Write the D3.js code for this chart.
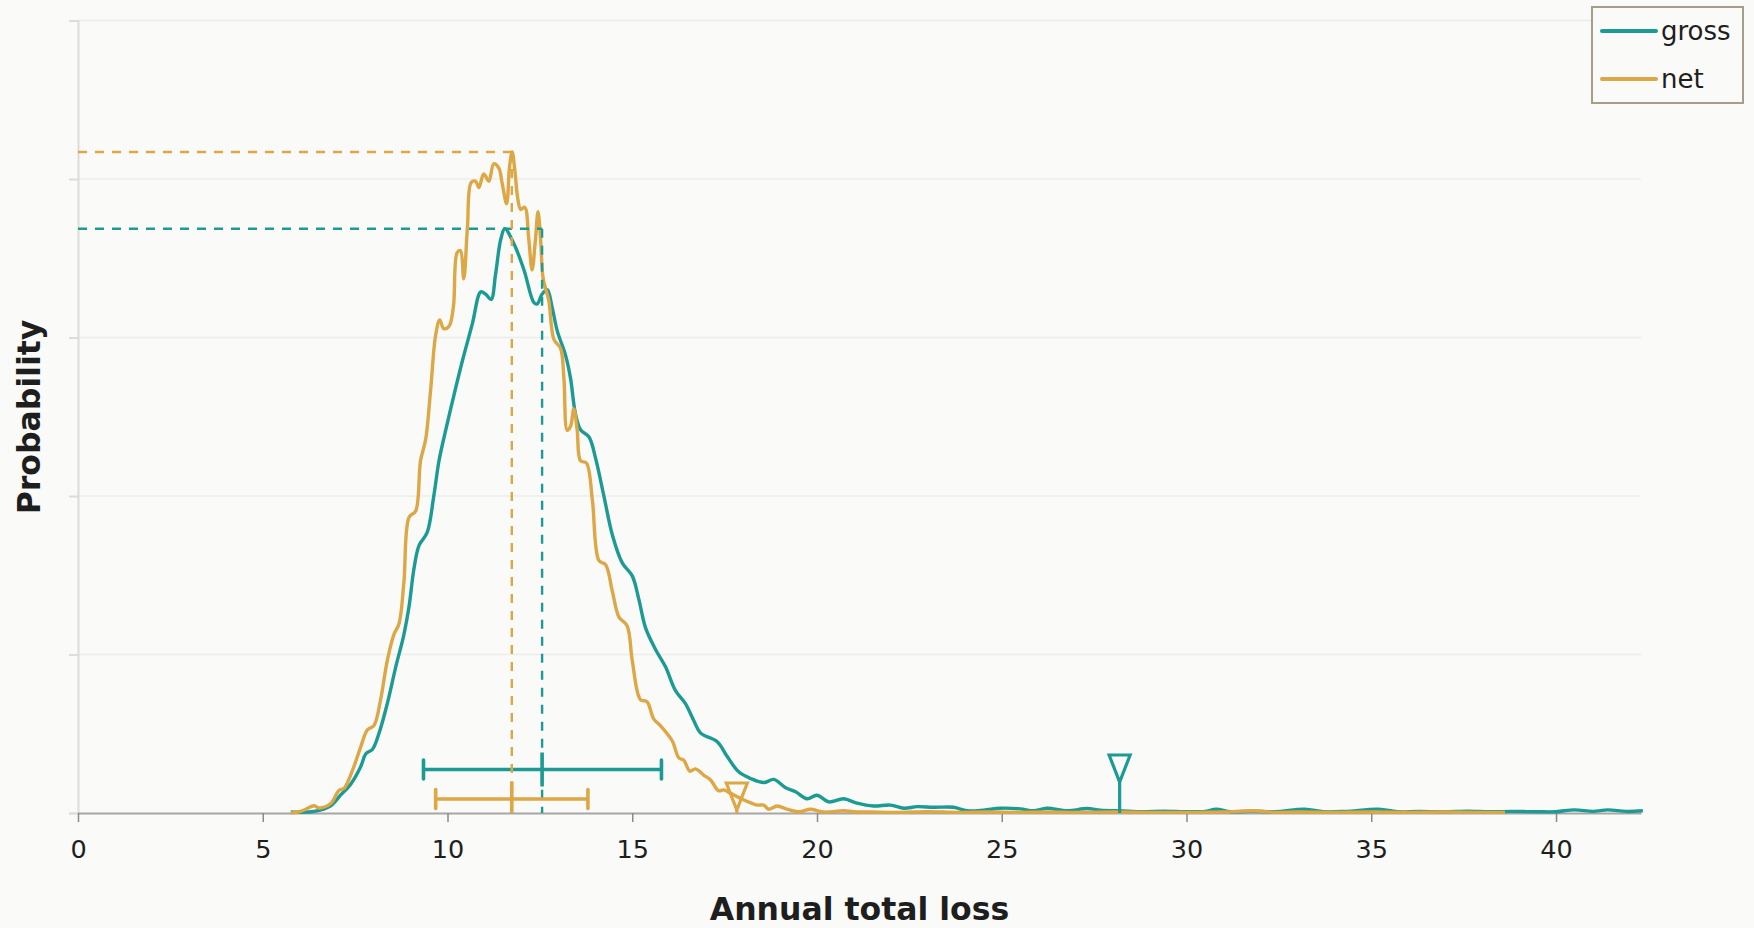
<!DOCTYPE html>
<html>
<head>
<meta charset="utf-8">
<script src="https://cdn.jsdelivr.net/npm/d3@7"></script>
<style>
	body { margin: 0; background: #fafaf8; }
	svg { display: block; font-family: "DejaVu Sans", Verdana, sans-serif; }
</style>
</head>
<body>
<svg id="chart" width="1754" height="928"></svg>
<script>
// density of annual total loss as [loss, probability]
grossCurve = [[5.76,0.0003],[6.39,0.0005],[6.84,0.0023],[7.11,0.0057],[7.38,0.0091],[7.65,0.0146],[7.79,0.0187],[7.97,0.0201],
	[8.14,0.0249],[8.37,0.0345],[8.60,0.0461],[8.82,0.0563],[8.96,0.0652],[9.09,0.0769],[9.23,0.0844],[9.45,0.0885],[9.63,0.1001],
	[9.77,0.1111],[9.95,0.1207],[10.17,0.1316],[10.40,0.1425],[10.67,0.1542],[10.90,0.1644],[11.03,0.1637],[11.18,0.1620],
	[11.30,0.1699],[11.44,0.1809],[11.55,0.1843],[11.80,0.1795],[12.07,0.1713],[12.34,0.1610],[12.43,0.1606],[12.56,0.1637],
	[12.70,0.1651],[12.83,0.1596],[12.97,0.1521],[13.19,0.1446],[13.33,0.1371],[13.46,0.1261],[13.60,0.1209],[13.83,0.1186],
	[14.01,0.1118],[14.23,0.1001],[14.46,0.0878],[14.73,0.0789],[15.00,0.0748],[15.18,0.0673],[15.36,0.0584],[15.63,0.0516],
	[15.90,0.0461],[16.17,0.0386],[16.44,0.0345],[16.67,0.0290],[16.85,0.0252],[17.30,0.0225],[17.57,0.0178],[17.88,0.0130],
	[18.20,0.0109],[18.56,0.0096],[18.83,0.0106],[19.15,0.0080],[19.42,0.0067],[19.73,0.0045],[20.00,0.0056],[20.32,0.0035],
	[20.72,0.0045],[21.08,0.0031],[21.53,0.0022],[21.99,0.0025],[22.35,0.0015],[22.71,0.0020],[23.16,0.0018],[23.70,0.0018],
	[24.06,0.0007],[24.51,0.0009],[24.96,0.0015],[25.50,0.0013],[25.86,0.0007],[26.22,0.0015],[26.77,0.0007],[27.31,0.0014],
	[27.67,0.0009],[28.2,0.0007],[28.8,0.0004],[29.4,0.0006],[30.0,0.0004],[30.5,0.0005],[30.8,0.0012],[31.2,0.0004],[31.8,0.0006],
	[32.4,0.0004],[33.2,0.0012],[33.7,0.0004],[34.3,0.0005],[35.2,0.0012],[35.7,0.0004],[36.3,0.0005],[37.0,0.0004],[37.6,0.0006],
	[38.2,0.0004],[38.8,0.0005],[39.5,0.0004],[40.0,0.0004],[40.5,0.0010],[41.0,0.0005],[41.4,0.0010],[41.9,0.0005],[42.35,0.0007]];

netCurve = [[5.76,0],[6.03,0.0005],[6.39,0.0023],[6.52,0.0016],[6.84,0.0030],[7.06,0.0071],[7.20,0.0078],[7.42,0.0132],
	[7.65,0.0208],[7.83,0.0262],[8.01,0.0276],[8.19,0.0358],[8.37,0.0481],[8.55,0.0563],[8.69,0.0598],[8.82,0.0728],[8.96,0.0933],
	[9.14,0.0953],[9.27,0.1111],[9.41,0.1179],[9.54,0.1330],[9.68,0.1508],[9.79,0.1555],[9.90,0.1528],[10.04,0.1535],[10.16,0.1597],
	[10.26,0.1768],[10.35,0.1774],[10.44,0.1685],[10.54,0.1850],[10.64,0.1989],[10.76,0.1993],[10.85,0.1973],[10.98,0.2016],
	[11.12,0.1993],[11.25,0.2048],[11.39,0.2034],[11.48,0.1986],[11.60,0.1922],[11.68,0.2040],[11.75,0.2085],[11.82,0.2030],
	[11.90,0.1940],[11.98,0.1904],[12.09,0.1911],[12.20,0.1809],[12.29,0.1713],[12.38,0.1809],[12.45,0.1897],[12.52,0.1809],
	[12.59,0.1685],[12.74,0.1617],[12.88,0.1494],[13.06,0.1466],[13.15,0.1371],[13.24,0.1207],[13.33,0.1220],[13.42,0.1275],
	[13.51,0.1207],[13.60,0.1111],[13.76,0.1104],[13.92,0.0988],[14.10,0.0796],[14.28,0.0783],[14.46,0.0700],[14.64,0.0618],
	[14.86,0.0591],[15.00,0.0481],[15.22,0.0358],[15.40,0.0351],[15.58,0.0297],[15.76,0.0276],[16.08,0.0228],[16.26,0.0174],
	[16.39,0.0167],[16.56,0.0132],[16.71,0.0139],[16.94,0.0119],[17.12,0.0104],[17.34,0.0070],[17.48,0.0073],[17.66,0.0062],
	[18.02,0.0041],[18.38,0.0025],[18.56,0.0025],[18.69,0.0012],[18.92,0.0022],[19.19,0.0012],[19.55,0.0004],[19.82,0.0012],
	[20.18,0.0003],[20.72,0.0007],[20.99,0.0004],[21.5,0.0003],[22.2,0.0002],[23.0,0.0004],[23.8,0.0002],[24.6,0.0003],
	[25.4,0.0002],[26.2,0.0003],[27.0,0.0002],[28.0,0.0003],[29.0,0.0002],[30.0,0.0002],[31.0,0.0003],[31.8,0.0007],
	[32.4,0.0002],[33.0,0.0003],[34.0,0.0002],[35.0,0.0003],[36.0,0.0002],[37.0,0.0003],[38.0,0.0002],[38.62,0.0002]];

seriesNames = ['gross', 'net'];
seriesColors = ['#1c9a94', '#dca744'];
// mode line (x, peak height), interval low/mid/high, tail marker
modeX = [12.56, 11.74];
modeY = [0.1843, 0.2085];
rangeLow = [9.35, 9.68];
rangeMid = [12.56, 11.74];
rangeHigh = [15.79, 13.80];
tailMark = [28.19, 17.83];

xTicks = [0, 5, 10, 15, 20, 25, 30, 35, 40];
yTicks = [0, 0.05, 0.1, 0.15, 0.2, 0.25];

margin = {left: 78, right: 1641, top: 20.5, bottom: 813};
barOffset = [43.5, 14];   // px above the axis
markOffset = [58, 30];

svg = d3.select('#chart');
x = d3.scaleLinear().domain([0, 42.3]).range([margin.left, margin.right]);
y = d3.scaleLinear().domain([0, 0.25]).range([margin.bottom, margin.top]);

function drawGrid(){
	svg.append('g').selectAll('line').data(yTicks.slice(1)).enter().append('line')
		.attr('x1', margin.left).attr('x2', margin.right)
		.attr('y1', d => y(d)).attr('y2', d => y(d))
		.attr('stroke', '#ececea').attr('stroke-width', 1.5);
	// left axis, no labels
	let ya = svg.append('g').attr('transform', 'translate(' + margin.left + ',0)')
		.call(d3.axisLeft(y).tickValues(yTicks).tickSize(9).tickFormat(''));
	ya.selectAll('line').attr('stroke', '#dcdcd8').attr('stroke-width', 2);
	ya.select('.domain').attr('stroke', '#dcdcd8').attr('stroke-width', 2);

	let xa = svg.append('g').attr('transform', 'translate(0,' + margin.bottom + ')')
		.call(d3.axisBottom(x).tickValues(xTicks).tickSize(9).tickSizeOuter(0).tickPadding(18));
	xa.select('.domain').attr('stroke', '#a6a6a6').attr('stroke-width', 2);
	xa.selectAll('line').attr('stroke', '#8a8a8a').attr('stroke-width', 1.5);
	xa.selectAll('text').attr('font-size', 25.5).attr('fill', '#1e1e1e')
		.attr('font-family', '"DejaVu Sans", Verdana, sans-serif');
}

function drawCurves(){
	let line = d3.line().x(d => x(d[0])).y(d => y(d[1])).curve(d3.curveCatmullRom.alpha(0.5));
	[grossCurve, netCurve].forEach(function(c, i){
		svg.append('path').datum(c).attr('d', line)
			.attr('fill', 'none').attr('stroke', seriesColors[i])
			.attr('stroke-width', 3.4).attr('stroke-linejoin', 'round');
	});
}

function drawMarkers(){
	seriesNames.forEach(function(name, i){
		let col = seriesColors[i];
		let g = svg.append('g').attr('stroke', col).attr('fill', 'none');
		// dashed mode lines
		g.append('line').attr('x1', margin.left).attr('x2', x(modeX[i]))
			.attr('y1', y(modeY[i])).attr('y2', y(modeY[i]))
			.attr('stroke-width', 2.4).attr('stroke-dasharray', '9,8');
		g.append('line').attr('x1', x(modeX[i])).attr('x2', x(modeX[i]))
			.attr('y1', y(modeY[i])).attr('y2', margin.bottom)
			.attr('stroke-width', 2.4).attr('stroke-dasharray', '9,8');
		// interval bar
		let by = margin.bottom - barOffset[i];
		g.append('line').attr('x1', x(rangeLow[i])).attr('x2', x(rangeHigh[i]))
			.attr('y1', by).attr('y2', by).attr('stroke-width', 3.6);
		[rangeLow[i], rangeHigh[i]].forEach(function(v){
			g.append('line').attr('x1', x(v)).attr('x2', x(v))
				.attr('y1', by - 9.5).attr('y2', by + 9.5)
				.attr('stroke-width', 3.6).attr('stroke-linecap', 'round');
		});
		g.append('line').attr('x1', x(rangeMid[i])).attr('x2', x(rangeMid[i]))
			.attr('y1', by - 17).attr('y2', Math.min(by + 17, margin.bottom))
			.attr('stroke-width', 3.6);
		// tail triangle with stem
		let tx = x(tailMark[i]), ty = margin.bottom - markOffset[i];
		g.append('path').attr('d', 'M' + (tx - 10.5) + ',' + ty + 'L' + (tx + 10.5) + ',' + ty + 'L' + tx + ',' + (ty + 27) + 'Z')
			.attr('stroke-width', 3.2).attr('stroke-linejoin', 'miter');
		g.append('line').attr('x1', tx).attr('x2', tx).attr('y1', ty + 27).attr('y2', margin.bottom)
			.attr('stroke-width', 3.2);
	});
}

function drawLabels(){
	svg.append('text').attr('x', (margin.left + margin.right) / 2).attr('y', 920)
		.attr('text-anchor', 'middle').attr('font-size', 31.5).attr('font-weight', 'bold')
		.attr('fill', '#1e1e1e').text('Annual total loss');
	svg.append('text').attr('transform', 'translate(40,417) rotate(-90)')
		.attr('text-anchor', 'middle').attr('font-size', 31.5).attr('font-weight', 'bold')
		.attr('fill', '#1e1e1e').text('Probability');
}

function drawLegend(){
	let lg = svg.append('g');
	lg.append('rect').attr('x', 1592).attr('y', 7).attr('width', 151).attr('height', 96)
		.attr('fill', '#fafaf8').attr('stroke', '#a49e8a').attr('stroke-width', 2);
	seriesNames.forEach(function(name, i){
		let ly = 31 + i * 48;
		lg.append('line').attr('x1', 1602).attr('x2', 1656).attr('y1', ly).attr('y2', ly)
			.attr('stroke', seriesColors[i]).attr('stroke-width', 4).attr('stroke-linecap', 'round');
		lg.append('text').attr('x', 1661).attr('y', ly + 9).attr('font-size', 26)
			.attr('fill', '#1e1e1e').text(name);
	});
}

drawGrid();
drawCurves();
drawMarkers();
drawLabels();
drawLegend();
</script>
</body>
</html>
